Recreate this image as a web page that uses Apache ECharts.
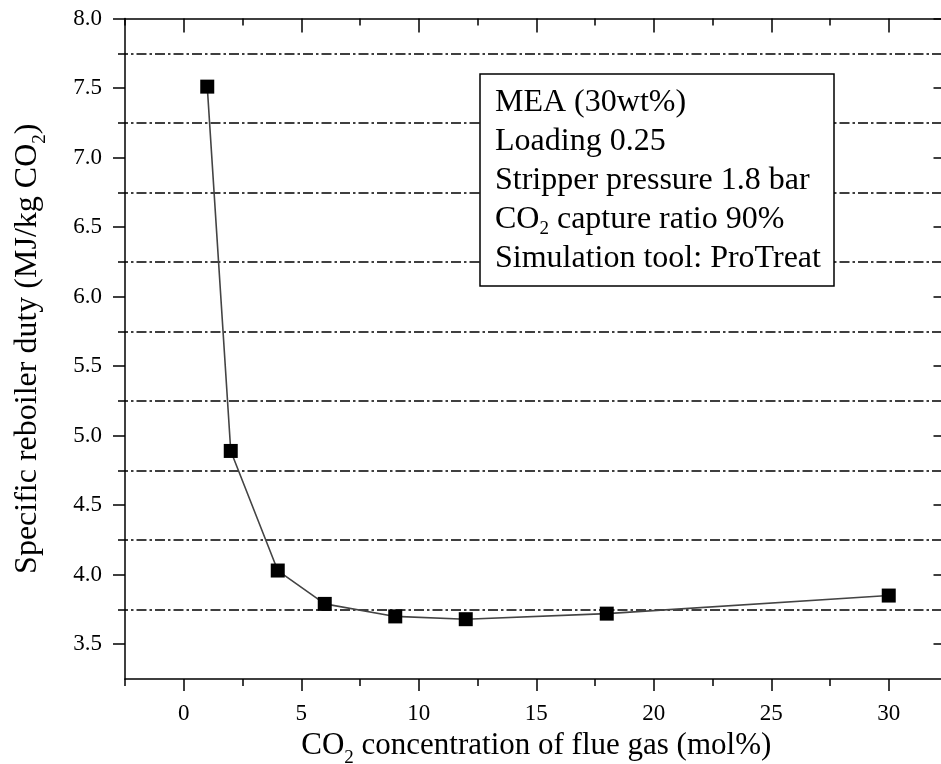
<!DOCTYPE html>
<html>
<head>
<meta charset="utf-8">
<script src="https://cdn.jsdelivr.net/npm/echarts@6/dist/echarts.min.js"></script>
<style>
html,body{margin:0;padding:0;background:#fff;}
#chart{width:941px;height:764px;}
</style>
</head>
<body>
<div id="chart"></div>
<script>
// ---- data ----
const co2Conc = [1, 2, 4, 6, 9, 12, 18, 30];
const reboilerDuty = [7.51, 4.89, 4.03, 3.79, 3.70, 3.68, 3.72, 3.85];
const xRange = [-2.5, 32.5];
const yRange = [3.25, 8.0];
const yLabelRange = [3.5, 8.0];
const dashRange = [3.75, 7.75];
const boxLines = [
  'MEA (30wt%)',
  'Loading 0.25',
  'Stripper pressure 1.8 bar',
  '{t|CO}{s|2}{t| capture ratio 90%}',
  'Simulation tool: ProTreat'
];
const xName = '{t|CO}{s|2}{t| concentration of flue gas (mol%)}';
const yName = '{t|Specific reboiler duty (MJ/kg CO}{s|2}{t|)}';

// ---- layout ----
const FONT = 'Liberation Serif';
const K = 139.05;           // px per y unit
const TOP = 18.5;
const LEFT = 125;
const RIGHT = -6.5;

const chart = echarts.init(document.getElementById('chart'), null, {renderer: 'canvas'});

function nameRich(size) {
  return {
    t: {fontFamily: FONT, fontSize: size, color: '#000', lineHeight: 44},
    s: {fontFamily: FONT, fontSize: 19, color: '#000', verticalAlign: 'bottom'}
  };
}
const axLine = {show: true, onZero: false, lineStyle: {color: '#000', width: 1.5}};
const gridBase = {left: LEFT, right: RIGHT, containLabel: false, outerBoundsMode: 'none'};

const option = {
  animation: false,
  backgroundColor: '#fff',
  title: {
    text: boxLines.join('\n'),
    left: 480, top: 74,
    backgroundColor: '#fff',
    borderColor: '#000', borderWidth: 1.5,
    padding: [9, 13, 8, 15],
    textStyle: {
      fontFamily: FONT, fontSize: 32, fontWeight: 'normal', color: '#000', lineHeight: 39,
      rich: {
        t: {fontFamily: FONT, fontSize: 32, color: '#000', lineHeight: 39},
        s: {fontFamily: FONT, fontSize: 19, color: '#000', verticalAlign: 'bottom'}
      }
    }
  },
  grid: [
    Object.assign({}, gridBase, {top: TOP, height: 4.75 * K}),
    Object.assign({}, gridBase, {top: TOP, height: 4.5 * K}),
    Object.assign({}, gridBase, {left: LEFT - 7, top: TOP + 0.25 * K, height: 4 * K})
  ],
  xAxis: [
    { // bottom ticks
      gridIndex: 0, type: 'value', position: 'bottom', min: xRange[0], max: xRange[1], interval: 5,
      axisLine: axLine,
      axisTick: {show: true, length: 7, lineStyle: {color: '#000', width: 1.5}},
      minorTick: {show: true, splitNumber: 2, length: 12, lineStyle: {color: '#000', width: 1.5}},
      axisLabel: {show: false}, splitLine: {show: false}
    },
    { // bottom labels + name
      gridIndex: 0, type: 'value', position: 'bottom', min: xRange[0], max: xRange[1], interval: 2.5,
      axisLine: {show: false, onZero: false}, axisTick: {show: false}, splitLine: {show: false},
      axisLabel: {
        show: true, margin: 23, fontFamily: FONT, fontSize: 23, color: '#000',
        formatter: v => (Math.abs(v % 5) < 1e-9 ? String(v) : '')
      },
      name: xName, nameLocation: 'middle', nameGap: 42,
      nameTextStyle: {rich: nameRich(31)}
    },
    { // top
      gridIndex: 0, type: 'value', position: 'top', min: xRange[0], max: xRange[1], interval: 5,
      axisLine: axLine,
      axisTick: {show: true, inside: true, length: 7, lineStyle: {color: '#000', width: 1.5}},
      minorTick: {show: true, splitNumber: 2, length: 14, lineStyle: {color: '#000', width: 1.5}},
      axisLabel: {show: false}, splitLine: {show: false}
    },
    {gridIndex: 1, type: 'value', show: false, min: xRange[0], max: xRange[1]},
    {gridIndex: 2, type: 'value', show: false, min: xRange[0], max: xRange[1]}
  ],
  yAxis: [
    { // left frame + name
      gridIndex: 0, type: 'value', position: 'left', min: yRange[0], max: yRange[1],
      axisLine: axLine, axisTick: {show: false}, axisLabel: {show: false}, splitLine: {show: false},
      name: yName, nameLocation: 'middle', nameGap: 75,
      nameTextStyle: {rich: nameRich(32)}
    },
    { // right frame
      gridIndex: 0, type: 'value', position: 'right', min: yRange[0], max: yRange[1],
      axisLine: axLine, axisTick: {show: false}, axisLabel: {show: false}, splitLine: {show: false}
    },
    { // left major ticks + labels
      gridIndex: 1, type: 'value', position: 'left', min: yLabelRange[0], max: yLabelRange[1], interval: 0.5,
      axisLine: {show: false, onZero: false},
      axisTick: {show: true, length: 12, lineStyle: {color: '#000', width: 1.5}},
      axisLabel: {show: true, margin: 23, fontFamily: FONT, fontSize: 23, color: '#000',
        formatter: v => v.toFixed(1)},
      splitLine: {show: false}
    },
    { // right major ticks inward
      gridIndex: 1, type: 'value', position: 'right', min: yLabelRange[0], max: yLabelRange[1], interval: 0.5,
      axisLine: {show: false, onZero: false},
      axisTick: {show: true, inside: true, length: 14, lineStyle: {color: '#000', width: 1.5}},
      axisLabel: {show: false}, splitLine: {show: false}
    },
    { // dash-dot reference lines
      gridIndex: 2, type: 'value', position: 'left', min: dashRange[0], max: dashRange[1], interval: 0.5,
      axisLine: {show: false, onZero: false}, axisTick: {show: false}, axisLabel: {show: false},
      splitLine: {show: true, lineStyle: {color: '#000', width: 1.5, type: [10, 3, 2.5, 3]}}
    }
  ],
  series: [{
    type: 'line',
    xAxisIndex: 0, yAxisIndex: 0,
    data: co2Conc.map((x, i) => [x, reboilerDuty[i]]),
    symbol: 'rect', symbolSize: 14,
    itemStyle: {color: '#000'},
    lineStyle: {color: '#444', width: 1.6},
    z: 5
  }]
};
chart.setOption(option);
</script>
</body>
</html>
